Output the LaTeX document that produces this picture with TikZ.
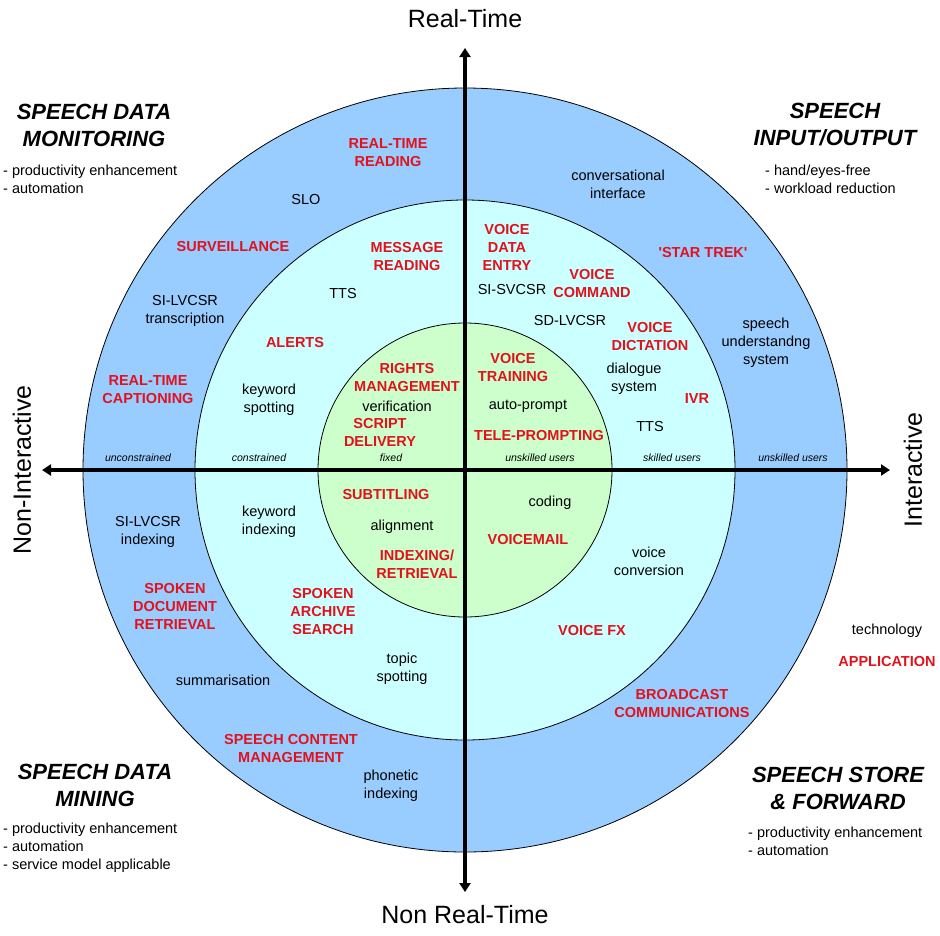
\documentclass[tikz,border=0pt]{standalone}
\usepackage{fontspec}
\setmainfont{Liberation Sans}
\usetikzlibrary{arrows.meta}
\definecolor{ringout}{RGB}{153,204,255}
\definecolor{ringmid}{RGB}{204,255,255}
\definecolor{ringin}{RGB}{204,255,204}
\definecolor{appred}{RGB}{226,18,28}

\begin{document}
\begin{tikzpicture}[x=1pt, y=-1pt,
  every node/.style={font=\fontsize{14.5}{18}\selectfont, align=center, inner sep=0pt},
  applbl/.style={text=appred, font=\fontsize{14.5}{18}\selectfont\bfseries},
  bandlbl/.style={font=\fontsize{10.5}{12}\selectfont\itshape},
  quadhead/.style={font=\fontsize{22}{27}\selectfont\bfseries\itshape},
  quadnote/.style={align=left, anchor=west},
  axislbl/.style={font=\fontsize{25}{30}\selectfont}]
  \useasboundingbox (0,0) rectangle (940,935);

  % rings
  \coordinate (o) at (465,470);
  \draw[line width=0.8pt, fill=ringout] (o) circle[radius=382pt];
  \draw[line width=0.8pt, fill=ringmid] (o) circle[radius=270pt];
  \draw[line width=0.8pt, fill=ringin] (o) circle[radius=147pt];

  % axes
  \coordinate (top) at (465,48);
  \coordinate (bot) at (465,892);
  \coordinate (lft) at (42,470);
  \coordinate (rgt) at (890,470);
  \draw[line width=3.5pt, {Triangle[length=9pt,width=11pt]}-{Triangle[length=9pt,width=11pt]}] (bot) -- (top);
  \draw[line width=3.5pt, {Triangle[length=9pt,width=11pt]}-{Triangle[length=9pt,width=11pt]}] (lft) -- (rgt);

  \node[axislbl] (rt) at (465,19) {Real-Time};
  \node[axislbl] (nrt) at (465,915) {Non Real-Time};
  \node[axislbl, rotate=90] (nint) at (22,470) {Non-Interactive};
  \node[axislbl, rotate=90] (int) at (913,470) {Interactive};

  % quadrant headings
  \node[quadhead] (mon) at (94,125) {SPEECH DATA\\MONITORING};
  \node[quadnote] (monn) at (3,179) {- productivity enhancement\\- automation};
  \node[quadhead] (io) at (835,125) {SPEECH\\INPUT/OUTPUT};
  \node[quadnote] (ion) at (765,179) {- hand/eyes-free\\- workload reduction};
  \node[quadhead] (mine) at (95,785) {SPEECH DATA\\MINING};
  \node[quadnote] (minen) at (3,848) {- productivity enhancement\\- automation\\- service model applicable};
  \node[quadhead] (store) at (838,788) {SPEECH STORE\\\& FORWARD};
  \node[quadnote] (storen) at (748,841) {- productivity enhancement\\- automation};

  % band labels
  \node[bandlbl] (b1) at (138,458) {unconstrained};
  \node[bandlbl] (b2) at (259,458) {constrained};
  \node[bandlbl] (b3) at (391,458) {fixed};
  \node[bandlbl] (b4) at (540,458) {unskilled users};
  \node[bandlbl] (b5) at (672,458) {skilled users};
  \node[bandlbl] (b6) at (793,458) {unskilled users};

  % outer ring
  \node[applbl] (rtread) at (388,153) {REAL-TIME\\READING};
  \node (slo) at (306,200) {SLO};
  \node (conv) at (618,184) {conversational\\interface};
  \node[applbl] (surv) at (233,247) {SURVEILLANCE};
  \node (silvt) at (185,311) {SI-LVCSR\\transcription};
  \node[applbl] (trek) at (703,253) {\textquotesingle STAR TREK\textquotesingle};
  \node (sus) at (766,343) {speech\\understandng\\system};
  \node[applbl] (rtcap) at (148,390) {REAL-TIME\\CAPTIONING};
  \node (silvi) at (148,532) {SI-LVCSR\\indexing};
  \node[applbl] (sdr) at (175,606) {SPOKEN\\DOCUMENT\\RETRIEVAL};
  \node (summ) at (223,680) {summarisation};
  \node[applbl] (scm) at (291,748) {SPEECH CONTENT\\MANAGEMENT};
  \node (phon) at (391,786) {phonetic\\indexing};
  \node[applbl] (bcast) at (682,703) {BROADCAST\\COMMUNICATIONS};

  % key
  \node (techkey) at (887,631) {technology};
  \node[applbl] (appkey) at (887,661) {APPLICATION};

  % middle ring
  \node[applbl] (msg) at (407,257) {MESSAGE\\READING};
  \node (tts1) at (343,294) {TTS};
  \node[applbl] (alert) at (295,343) {ALERTS};
  \node (kws) at (269,400) {keyword\\spotting};
  \node[applbl] (vde) at (507,247) {VOICE\\DATA\\ENTRY};
  \node (sisv) at (512,290) {SI-SVCSR};
  \node[applbl] (vcmd) at (592,284) {VOICE\\COMMAND};
  \node (sdlv) at (570,321) {SD-LVCSR};
  \node[applbl] (vdict) at (650,337) {VOICE\\DICTATION};
  \node (dlg) at (634,379) {dialogue\\system};
  \node[applbl] (ivr) at (697,399) {IVR};
  \node (tts2) at (650,427) {TTS};
  \node (kwi) at (269,522) {keyword\\indexing};
  \node[applbl] (sas) at (323,611) {SPOKEN\\ARCHIVE\\SEARCH};
  \node (topic) at (402,669) {topic\\spotting};
  \node (vconv) at (649,561) {voice\\conversion};
  \node[applbl] (vfx) at (592,630) {VOICE FX};

  % inner circle
  \node[applbl] (rights) at (407,378) {RIGHTS\\MANAGEMENT};
  \node (verif) at (397,406) {verification};
  \node[applbl] (script) at (380,432) {SCRIPT\\DELIVERY};
  \node[applbl] (vtrain) at (513,368) {VOICE\\TRAINING};
  \node (autop) at (528,406) {auto-prompt};
  \node[applbl] (tele) at (539,436) {TELE-PROMPTING};
  \node[applbl] (subt) at (386,494) {SUBTITLING};
  \node (align) at (402,527) {alignment};
  \node[applbl] (idx) at (417,564) {INDEXING/\\RETRIEVAL};
  \node (coding) at (550,503) {coding};
  \node[applbl] (vmail) at (528,539) {VOICEMAIL};
\end{tikzpicture}
\end{document}
